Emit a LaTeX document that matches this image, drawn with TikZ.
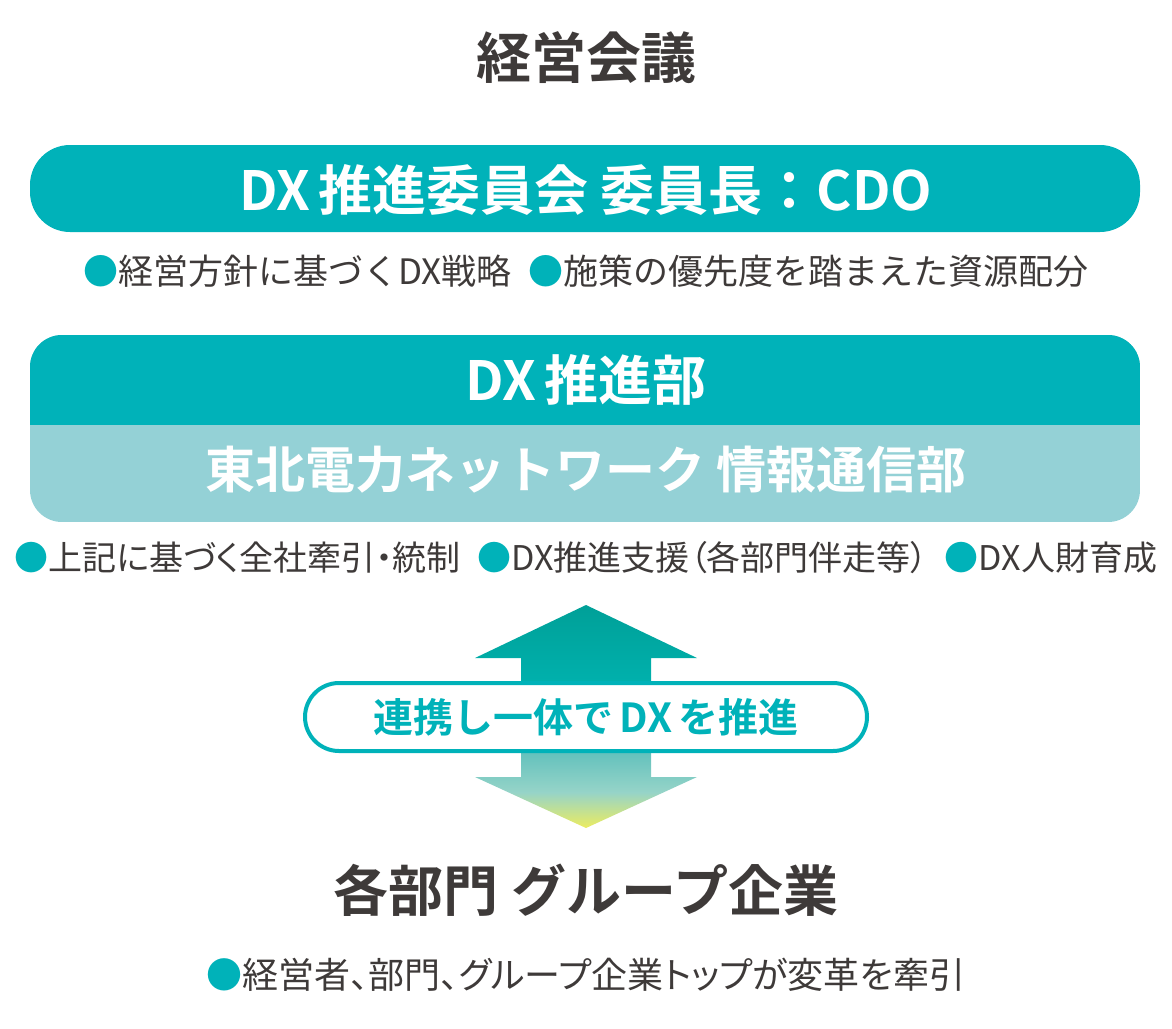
\documentclass[tikz,border=0pt]{standalone}
\usepackage{fontspec}
\setmainfont{Noto Sans CJK JP}[BoldFont={Noto Sans CJK JP Bold}]
\newfontfamily\paltfont{Noto Sans CJK JP}[BoldFont={Noto Sans CJK JP Bold}, RawFeature=+palt]

\definecolor{dxteal}{RGB}{0,178,185}
\definecolor{dxlight}{RGB}{148,209,214}
\definecolor{dxtext}{RGB}{62,58,57}
\definecolor{arrowtop}{RGB}{0,160,152}
\definecolor{arrowmid}{RGB}{0,176,172}
\definecolor{arrowlow}{RGB}{105,195,190}
\definecolor{arrowpale}{RGB}{150,212,200}
\definecolor{arrowend}{RGB}{236,236,96}

\pgfdeclareverticalshading{dxarrow}{100bp}{color(0bp)=(arrowend); color(25bp)=(arrowend); color(33bp)=(arrowpale); color(41bp)=(arrowlow); color(58bp)=(arrowmid); color(75bp)=(arrowtop); color(100bp)=(arrowtop)}

\newcommand{\tealdot}{{\color{dxteal}●}}
\newcommand{\dxgap}{\hspace{0.15em}}

\tikzset{
  headtext/.style={inner sep=0pt, text=dxtext, font=\bfseries\fontsize{27.5}{27.5}\selectfont},
  bartext/.style={inner sep=0pt, text=white, font=\bfseries\fontsize{#1}{#1}\selectfont},
  bartext/.default=25,
  itemtext/.style={inner sep=0pt, text=dxtext, font=\fontsize{17.5}{17.5}\selectfont},
  paltitem/.style={itemtext, font=\paltfont\fontsize{#1}{#1}\selectfont},
  paltitem/.default=17
}

\begin{document}
\begin{tikzpicture}[x=0.5pt, y=-0.5pt]
            \useasboundingbox (0,0) rectangle (1172,1028);

            \node[headtext] (board) at (586,58) {経営会議};

            \fill[dxteal, rounded corners=20pt] (30,145) rectangle (1140,232);
            \node[bartext=27] (committee) at (586,190) {DX\dxgap 推進委員会 委員長：CDO};
            \node[itemtext] (policy) at (586,271) {\tealdot 経営方針に基づくDX戦略\hspace{0.5em}\tealdot 施策の優先度を踏まえた資源配分};

            \begin{scope}
                \clip[rounded corners=16pt] (30,335) rectangle (1140,522);
                \fill[dxlight] (30,335) rectangle (1140,522);
                \fill[dxteal] (30,335) rectangle (1140,425);
            \end{scope}
            \node[bartext=27] (dept) at (586,380) {DX\dxgap 推進部};
            \node[bartext] (network) at (586,470) {東北電力ネットワーク 情報通信部};
            \node[paltitem] (roles) at (586,558) {\tealdot 上記に基づく全社牽引・統制\hspace{0.5em}\tealdot DX推進支援（各部門伴走等）\hspace{0.5em}\tealdot DX人財育成};

            \shade[shading=dxarrow] (586,605) -- (697,658) -- (651,658) -- (651,777) -- (697,777) -- (586,828)
                -- (475,777) -- (521,777) -- (521,658) -- (475,658) -- cycle;

            \node[draw=dxteal, line width=2pt, fill=white, rounded corners=17pt, minimum width=281pt, minimum height=34pt,
                text=dxteal, font=\bfseries\fontsize{20}{20}\selectfont] (joint) at (586,717) {連携し一体で\dxgap DX\dxgap を推進};

            \node[headtext] (groups) at (586,890) {各部門 グループ企業};
            \node[paltitem=18] (leaders) at (586,975) {\tealdot 経営者、部門、グループ企業トップが変革を牽引};
        \end{tikzpicture}
\end{document}
